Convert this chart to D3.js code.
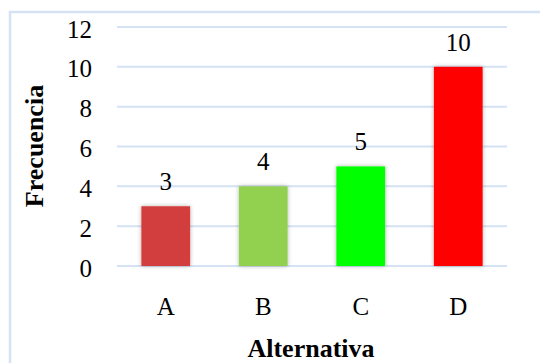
<!DOCTYPE html>
<html>
<head>
<meta charset="utf-8">
<script src="https://cdn.jsdelivr.net/npm/d3@7"></script>
<style>
  html, body { margin: 0; padding: 0; background: #fff; }
  svg { display: block; }
  svg text { font-family: "Liberation Serif", "Times New Roman", "DejaVu Serif", serif; fill: #000; }
</style>
</head>
<body>
<svg id="chart" width="540" height="363"></svg>
<script>
// Frecuencia de respuestas por alternativa
const categories = ["A", "B", "C", "D"];
const values = [3, 4, 5, 10];
const colors = ["#d23c3c", "#92d050", "#00ff00", "#ff0000"];
const yTicks = [0, 2, 4, 6, 8, 10, 12];

const svg = d3.select("#chart");
const plot = { left: 117, right: 507, top: 27, bottom: 266 };
const FONT = "Liberation Serif, Times New Roman, serif";

// chart-area frame
svg.append("rect")
  .attr("x", 10).attr("y", 12)
  .attr("width", 560).attr("height", 380)
  .attr("fill", "#fff")
  .attr("stroke", "#d5e2f3")
  .attr("stroke-width", 2.5);

const x = d3.scaleBand().domain(categories)
  .range([plot.left, plot.right]).paddingInner(0.5).paddingOuter(0.25);
const y = d3.scaleLinear().domain([0, 12]).range([plot.bottom, plot.top]);

const defs = svg.append("defs");
const f = defs.append("filter").attr("id", "shadow")
  .attr("x", "-30%").attr("y", "-10%").attr("width", "160%").attr("height", "120%");
f.append("feDropShadow").attr("dx", 0).attr("dy", 0).attr("stdDeviation", 2)
  .attr("flood-color", "#000").attr("flood-opacity", 0.3);

// gridlines
svg.append("g").selectAll("line").data(yTicks).join("line")
  .attr("x1", plot.left).attr("x2", plot.right)
  .attr("y1", d => y(d)).attr("y2", d => y(d))
  .attr("stroke", "#d5e2f3").attr("stroke-width", 2);

// y axis labels
const yAxis = d3.axisLeft(y).tickValues(yTicks).tickSize(0).tickPadding(0);
const gy = svg.append("g").attr("transform", `translate(${plot.left - 25},0)`).call(yAxis)
  .attr("font-family", FONT).attr("font-size", 25);
gy.select(".domain").remove();
gy.selectAll("text").attr("dy", "0.4em").attr("fill", "#000");

// bars
svg.append("g").selectAll("rect").data(values).join("rect")
  .attr("x", (d, i) => x(categories[i]))
  .attr("y", d => y(d))
  .attr("width", x.bandwidth())
  .attr("height", d => y(0) - y(d))
  .attr("fill", (d, i) => colors[i])
  .attr("filter", "url(#shadow)");

// value labels
svg.append("g").selectAll("text").data(values).join("text")
  .attr("x", (d, i) => x(categories[i]) + x.bandwidth() / 2)
  .attr("y", d => y(d) - 16)
  .attr("text-anchor", "middle")
  .attr("font-size", 25)
  .text(d => d);

// x axis labels
const xAxis = d3.axisBottom(x).tickSize(0).tickPadding(0);
const gx = svg.append("g").attr("transform", `translate(0,${plot.bottom})`).call(xAxis)
  .attr("font-family", FONT).attr("font-size", 25);
gx.select(".domain").remove();
gx.selectAll("text").attr("y", 49).attr("dy", 0).attr("fill", "#000");

// axis titles
svg.append("text")
  .attr("x", 311).attr("y", 357)
  .attr("text-anchor", "middle").attr("font-size", 26).attr("font-weight", "bold")
  .text("Alternativa");

svg.append("text")
  .attr("transform", `translate(43,146) rotate(-90)`)
  .attr("text-anchor", "middle").attr("font-size", 26).attr("font-weight", "bold")
  .text("Frecuencia");
</script>
</body>
</html>
